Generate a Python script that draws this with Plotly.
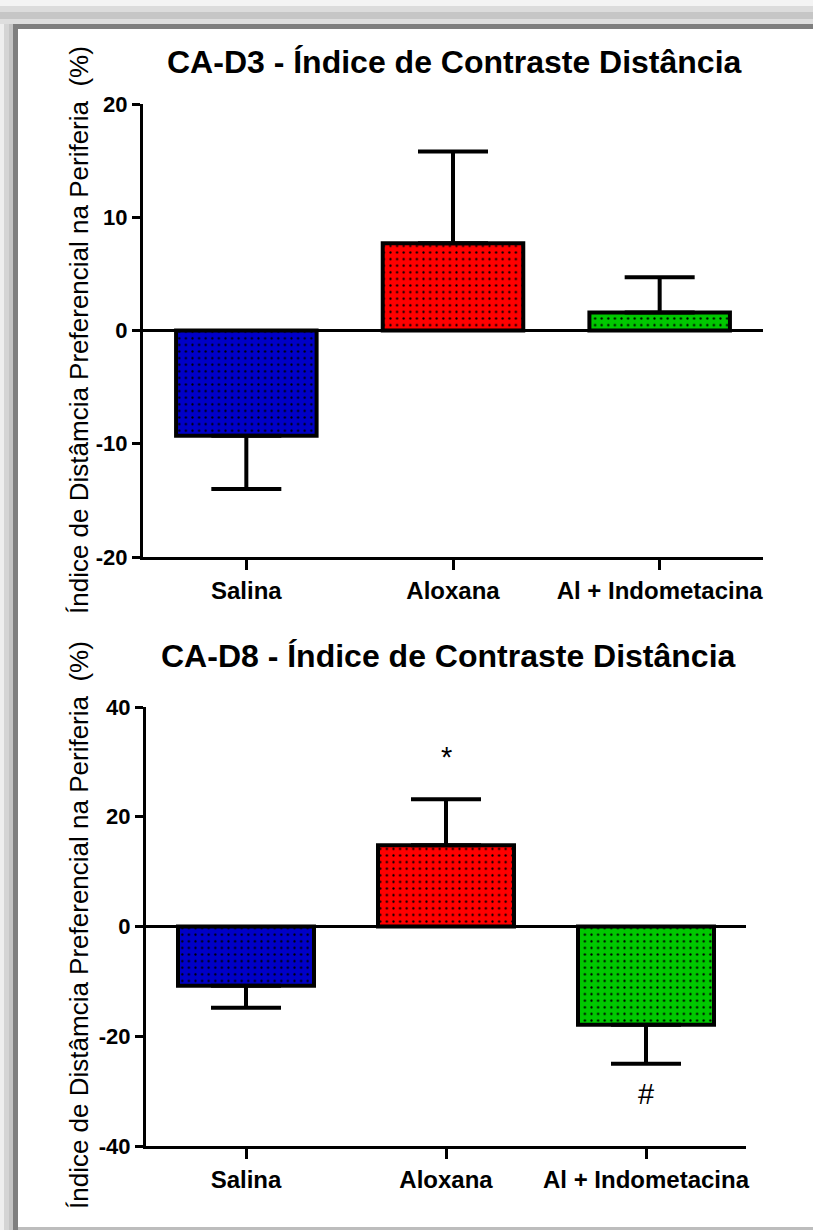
import plotly.graph_objects as go

# ---- data -------------------------------------------------------------
categories = ["Salina", "Aloxana", "Al + Indometacina"]
bar_colors = ["#0000C8", "#FF0000", "#00C800"]

d3_means = [-9.3, 7.7, 1.6]
d3_sem = [4.7, 8.1, 3.1]
d3_ticks = [-20, -10, 0, 10, 20]
d3_ticktext = ["-20", "-10", "0", "10", "20"]

d8_means = [-10.8, 14.8, -17.9]
d8_sem = [4.0, 8.4, 7.1]
d8_marks = ["", "*", "#"]
d8_ticks = [-40, -20, 0, 20, 40]
d8_ticktext = ["-40", "-20", "0", "20", "40"]

d3_title = "CA-D3 - Índice de Contraste Distância"
d8_title = "CA-D8 - Índice de Contraste Distância"
y_title = "Índice de Distâmcia Preferencial na Periferia\u00a0\u00a0(%)"

W, H = 813, 1230
FONT = "Arial, Liberation Sans, Helvetica, sans-serif"


def px_x(p):
    return p / W


def px_y(p):
    return 1 - p / H


fig = go.Figure()


def add_panel(means, errs, xa, ya):
    # one trace per group so each bar keeps its own dotted fill
    for cat, m, e, col in zip(categories, means, errs, bar_colors):
        up = e if m >= 0 else 0
        down = e if m < 0 else 0
        fig.add_trace(go.Bar(
            x=[cat], y=[m], width=0.68,
            marker=dict(
                color=col,
                line=dict(color="black", width=4),
                pattern=dict(shape=".", size=6.6, solidity=0.09,
                             fgcolor="black", bgcolor=col, fgopacity=1,
                             fillmode="overlay"),
            ),
            error_y=dict(type="data", symmetric=False, array=[up],
                         arrayminus=[down], color="black", thickness=4,
                         width=35),
            xaxis=xa, yaxis=ya, showlegend=False, hoverinfo="skip",
        ))


add_panel(d3_means, d3_sem, "x", "y")
add_panel(d8_means, d8_sem, "x2", "y2")

# significance marks above / below the error bars
for cat, m, e, mark in zip(categories, d8_means, d8_sem, d8_marks):
    if not mark:
        continue
    if m >= 0:
        ypos, anchor = m + e + 4.5, "bottom"
    else:
        ypos, anchor = m - e - 2.3, "top"
    fig.add_annotation(x=cat, y=ypos, xref="x2", yref="y2", text=mark,
                       showarrow=False, yanchor=anchor,
                       font=dict(family=FONT, size=29, color="black"))

line_style = dict(showline=True, linecolor="black", linewidth=3,
                  ticks="outside", tickcolor="black", tickwidth=3,
                  showgrid=False, fixedrange=True)
xfont = dict(family=FONT, size=24, color="black", weight="bold")
yfont = dict(family=FONT, size=22, color="black", weight="bold")

fig.update_layout(
    width=W, height=H,
    margin=dict(l=0, r=0, t=0, b=0, autoexpand=False),
    paper_bgcolor="white", plot_bgcolor="white",
    barmode="overlay",
    xaxis=dict(domain=[px_x(143), px_x(763)], anchor="y", type="category",
               categoryorder="array", categoryarray=categories,
               range=[-0.5, 2.5], ticklen=10, tickfont=xfont, **line_style),
    yaxis=dict(domain=[px_y(557), px_y(104)], anchor="x", range=[-20, 20],
               tickmode="array", tickvals=d3_ticks, ticktext=d3_ticktext,
               ticklen=8, tickfont=yfont, zeroline=True,
               zerolinecolor="black", zerolinewidth=3, **line_style),
    xaxis2=dict(domain=[px_x(146), px_x(746)], anchor="y2", type="category",
                categoryorder="array", categoryarray=categories,
                range=[-0.5, 2.5], ticklen=10, tickfont=xfont, **line_style),
    yaxis2=dict(domain=[px_y(1146), px_y(707)], anchor="x2", range=[-40, 40],
                tickmode="array", tickvals=d8_ticks, ticktext=d8_ticktext,
                ticklen=8, tickfont=yfont, zeroline=True,
                zerolinecolor="black", zerolinewidth=3, **line_style),
)

# panel titles and rotated y-axis titles
for title, cx, cy in [(d3_title, 454, 62), (d8_title, 449, 656)]:
    fig.add_annotation(x=px_x(cx), y=px_y(cy), xref="paper", yref="paper",
                       text=f"<b>{title}</b>", showarrow=False,
                       xanchor="center", yanchor="middle",
                       font=dict(family=FONT, size=32, color="black"))
for cy in [330, 925]:
    fig.add_annotation(x=px_x(79), y=px_y(cy), xref="paper", yref="paper",
                       text=y_title, textangle=-90, showarrow=False,
                       xanchor="center", yanchor="middle",
                       font=dict(family=FONT, size=26, color="black"))

# picture frame: soft grey shadow, dark edge, light bottom edge
frame = []
shadow = [(0, 4, "#eeeeee"), (4, 9, "#d4d4d4"), (9, 13, "#c4c4c4")]
for a, b, col in shadow:
    frame.append(dict(type="rect", xref="paper", yref="paper",
                      x0=px_x(a), x1=px_x(b), y0=0, y1=1,
                      fillcolor=col, line_width=0, layer="below"))
top_shadow = [(0, 6, "#f4f4f4"), (6, 12, "#dcdcdc"), (12, 19, "#c6c6c6"),
              (19, 24, "#dedede")]
for a, b, col in top_shadow:
    frame.append(dict(type="rect", xref="paper", yref="paper",
                      x0=0, x1=1, y0=px_y(b), y1=px_y(a),
                      fillcolor=col, line_width=0, layer="below"))
frame.append(dict(type="rect", xref="paper", yref="paper",
                  x0=px_x(13), x1=1, y0=px_y(29), y1=px_y(24),
                  fillcolor="#7f7f7f", line_width=0, layer="below"))
frame.append(dict(type="rect", xref="paper", yref="paper",
                  x0=px_x(13), x1=px_x(18), y0=0, y1=px_y(24),
                  fillcolor="#7f7f7f", line_width=0, layer="below"))
frame.append(dict(type="rect", xref="paper", yref="paper",
                  x0=px_x(18), x1=1, y0=0, y1=px_y(1227),
                  fillcolor="#bdbdbd", line_width=0, layer="below"))
fig.update_layout(shapes=frame)

fig.write_html(
    "out.html",
    config={"displayModeBar": False, "staticPlot": True},
    post_script="var s=document.createElement('style');"
                "s.textContent='html,body{margin:0;padding:0;overflow:hidden;"
                "scrollbar-width:none;}::-webkit-scrollbar{display:none;}';"
                "document.head.appendChild(s);",
)
